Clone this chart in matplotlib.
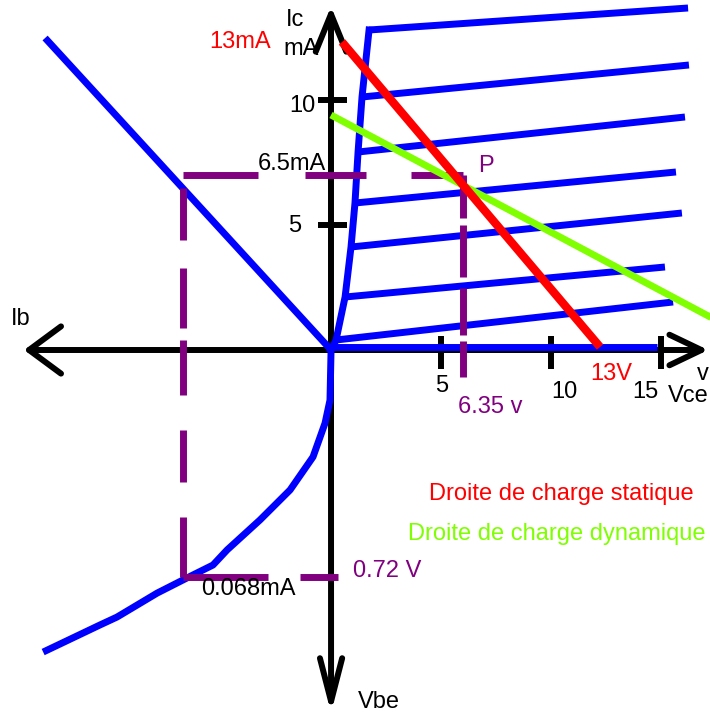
import matplotlib
matplotlib.use('Agg')
import matplotlib.pyplot as plt
import numpy as np

plt.rcParams['font.family'] = ['Liberation Sans', 'DejaVu Sans']
plt.rcParams['lines.scale_dashes'] = False

# ---------------- data ----------------
# Output characteristics Ic(Vce): saturation knee + one line per Ib step
knee_vce = [0.0, 0.23, 0.64, 0.91, 1.09, 1.23, 1.41, 1.73]
knee_ic = [0.0, 0.40, 2.12, 4.12, 5.88, 7.92, 10.12, 12.80]
curve_start_vce = [1.73, 1.41, 1.23, 1.09, 0.91, 0.64, 0.23, 0.0]
curve_start_ic = [12.80, 10.12, 7.92, 5.88, 4.12, 2.12, 0.40, 0.12]
curve_end_vce = [16.23, 16.27, 16.09, 15.68, 15.95, 15.18, 15.55, 14.82]
curve_end_ic = [13.68, 11.40, 9.32, 7.12, 5.48, 3.32, 1.92, 0.12]

# load lines
static_vce = [0.5, 12.23]
static_ic = [12.32, 0.12]
dynamic_vce = [0.0, 17.3]
dynamic_ic = [9.40, 1.29]

# transfer characteristic Ic(Ib)
transfer_ib = [0.0, 0.1332]
transfer_ic = [0.0, 12.48]

# input characteristic Vbe(Ib)
input_ib = [0.0, 0.0005, 0.0028, 0.0084, 0.0191, 0.0331, 0.0484, 0.0550,
            0.0671, 0.0810, 0.0997, 0.1076, 0.1341]
input_vbe = [0.0, 0.159, 0.232, 0.339, 0.444, 0.539, 0.634, 0.682,
             0.723, 0.771, 0.847, 0.872, 0.958]

# quiescent point (as drawn)
vce_q = 6.0
ic_q = 7.0
ib_q = 0.069
vbe_q = 0.72

vce_ticks = [5, 10, 15]
ic_ticks = [5, 10]

BLUE = '#0000FF'
RED = '#FF0000'
GREEN = '#7FFF00'
PURPLE = '#800080'
FS = 17

# ---------------- figure / coordinate systems ----------------
fig = plt.figure(figsize=(7.1, 7.17), dpi=100)
ax = fig.add_axes([0, 0, 1, 1])       # Vce (V) / Ic (mA)
ax_tr = fig.add_axes([0, 0, 1, 1])    # Ib (mA) / Ic (mA)
ax_in = fig.add_axes([0, 0, 1, 1])    # Ib (mA) / Vbe (V)
for a in (ax, ax_tr, ax_in):
    a.set_axis_off()
    a.patch.set_visible(False)
ax.set_xlim(-15.045, 17.227)
ax.set_ylim(-14.68, 14.0)
ax_tr.set_xlim(0.1542, -0.1765)
ax_tr.set_ylim(-14.68, 14.0)
ax_in.set_xlim(0.1542, -0.1765)
ax_in.set_ylim(1.164, -1.110)


def to_main(src, x, y):
    return ax.transData.inverted().transform(src.transData.transform((x, y)))


# ---------------- axes with arrows ----------------
def axis_arrow(end, coords, hl, hw):
    ax.annotate('', xy=end, xycoords=coords, xytext=(0, 0), textcoords=ax.transData,
                arrowprops=dict(arrowstyle=f'->,head_length={hl},head_width={hw}',
                                lw=4.3, color='black', shrinkA=0, shrinkB=0,
                                mutation_scale=1), zorder=1)


axis_arrow((17.15, 0), ax.transData, 23, 11)
axis_arrow((0, 13.75), ax.transData, 27, 11)
axis_arrow((0.1430, 0), ax_tr.transData, 23, 17)
axis_arrow((0, 1.152), ax_in.transData, 31, 8)

for v in vce_ticks:
    ax.plot([v, v], [0.55, -0.75], color='black', lw=4.3, solid_capstyle='butt', zorder=1)
for i in ic_ticks:
    ax.plot([-0.6, 0.75], [i, i], color='black', lw=4.3, solid_capstyle='butt', zorder=1)

# ---------------- blue characteristics ----------------
ax.plot(knee_vce, knee_ic, color=BLUE, lw=5, solid_joinstyle='round', zorder=2)
for sv, si, ev, ei in zip(curve_start_vce, curve_start_ic, curve_end_vce, curve_end_ic):
    ax.plot([sv, ev], [si, ei], color=BLUE, lw=5, solid_capstyle='butt', zorder=2)
ax.plot(transfer_ib, transfer_ic, color=BLUE, lw=5, solid_capstyle='butt',
        transform=ax_tr.transData, zorder=2)
ax.plot(input_ib, input_vbe, color=BLUE, lw=5, solid_joinstyle='round',
        solid_capstyle='butt', transform=ax_in.transData, zorder=2)

# ---------------- purple projection of Q ----------------
x_left = to_main(ax_tr, ib_q, ic_q)[0]
y_bot = to_main(ax_in, ib_q, vbe_q)[1]
k = 0.72  # px -> pt
ax.plot([x_left, vce_q], [ic_q, ic_q], color=PURPLE, lw=5, zorder=3,
        linestyle=(0, [75 * k, 47 * k, 61 * k, 45 * k, 70 * k, 50 * k]))
seq = [52, 28, 60, 12, 55, 35, 52, 35, 62, 13]
ax.plot([x_left, x_left], [ic_q, y_bot], color=PURPLE, lw=5, zorder=3,
        linestyle=((sum(seq) - 13) * k, [s * k for s in seq]))
ax.plot([ib_q, -0.0033], [vbe_q, vbe_q], color=PURPLE, lw=5, zorder=3,
        transform=ax_in.transData,
        linestyle=(0, [85 * k, 32 * k, 40 * k, 50 * k]))
ax.plot([vce_q, vce_q], [ic_q, -1.08], color=PURPLE, lw=5, zorder=3,
        linestyle=(0, [s * k for s in [43, 7, 52, 11, 47, 6, 40, 20]]))

# ---------------- load lines ----------------
ax.plot(dynamic_vce, dynamic_ic, color=GREEN, lw=5, solid_capstyle='butt', zorder=4)
ax.plot(static_vce, static_ic, color=RED, lw=6, solid_capstyle='butt', zorder=5)

# ---------------- texts ----------------
def txt(x, y, s, color='black', ha='center'):
    ax.text(x, y, s, color=color, fontsize=FS, ha=ha, va='baseline', zorder=6)


txt(-1.64, 12.96, 'Ic')
txt(-1.34, 11.80, 'mA')
txt(-4.14, 12.08, '13mA', RED)
txt(-1.32, 9.52, '10')
txt(-1.64, 4.72, '5')
txt(-1.77, 7.20, '6.5mA')
txt(7.05, 7.12, 'P', PURPLE)
txt(5.05, -1.68, '5')
txt(10.59, -1.92, '10')
txt(14.27, -1.92, '15')
txt(12.73, -1.20, '13V', RED)
txt(16.91, -1.20, 'v')
txt(16.23, -2.08, 'Vce')
txt(7.23, -2.52, '6.35 v', PURPLE)
txt(10.45, -6.00, 'Droite de charge statique', RED)
txt(10.27, -7.60, 'Droite de charge dynamique', GREEN)
txt(2.55, -9.08, '0.72 V', PURPLE)
txt(-3.77, -9.80, '0.068mA')
txt(-14.09, 1.00, 'Ib')
txt(2.18, -14.32, 'Vbe')

fig.savefig('out.png', dpi=100)
